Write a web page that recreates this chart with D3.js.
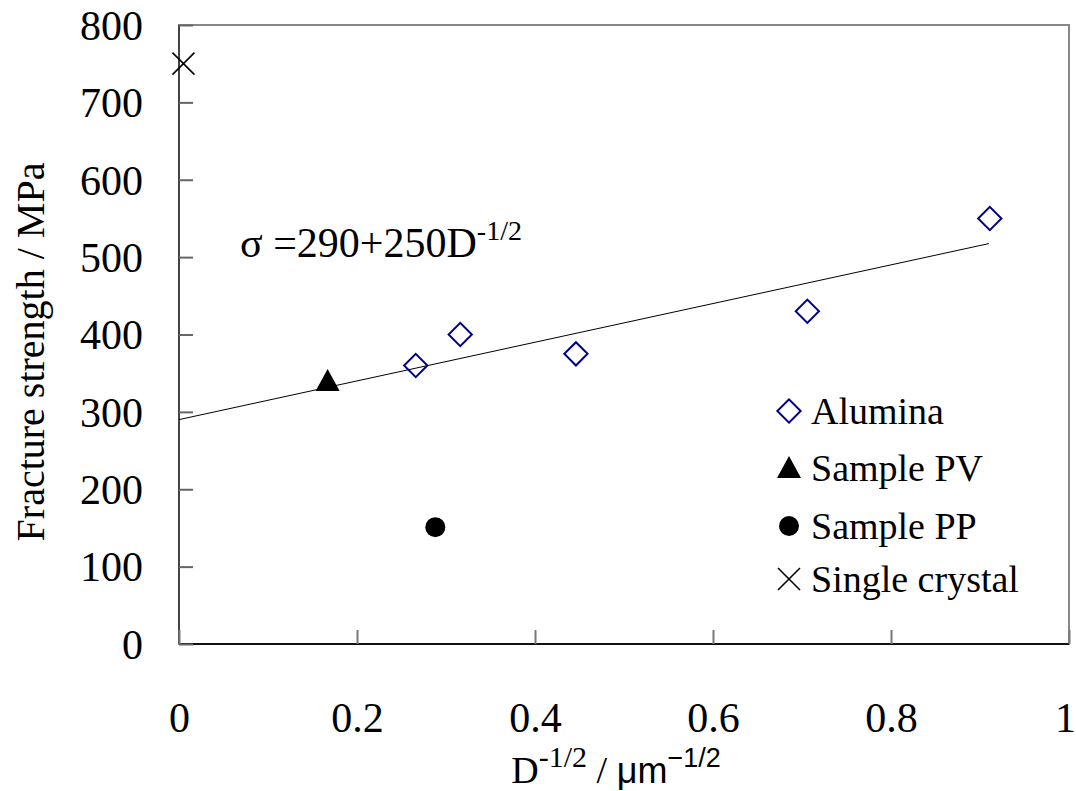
<!DOCTYPE html>
<html><head><meta charset="utf-8">
<script src="https://cdn.jsdelivr.net/npm/d3@7"></script>
<style>body{margin:0;background:#fff}svg{display:block}</style>
</head><body>
<svg id="c" width="1076" height="791"></svg>
<script>
const xTicks = [0, 0.2, 0.4, 0.6, 0.8, 1];
const xTickLabels = ["0", "0.2", "0.4", "0.6", "0.8", "1"];
const yTicks = [0, 100, 200, 300, 400, 500, 600, 700, 800];
const aluminaX = [0.266, 0.316, 0.446, 0.706, 0.911];
const aluminaY = [360, 400, 375, 430, 550];
const pvX = [0.167], pvY = [340];
const ppX = [0.288], ppY = [151];
const scX = [0.005], scY = [750];
const fitIntercept = 290, fitSlope = 250, fitRange = [0, 0.91];
const legendLabels = ["Alumina", "Sample PV", "Sample PP", "Single crystal"];

const SERIF = "Liberation Serif";
const SANS = "Liberation Sans";
const svg = d3.select("#c");
const L = 179, R = 1069, T = 25, B = 644;
const x = d3.scaleLinear().domain([0, 1]).range([L, R]);
const y = d3.scaleLinear().domain([0, 800]).range([B, T]);

// frame
svg.append("rect").attr("x", L).attr("y", T).attr("width", R - L).attr("height", B - T)
  .attr("fill", "none").attr("stroke", "#888").attr("stroke-width", 2);
svg.append("line").attr("x1", L).attr("x2", L).attr("y1", T).attr("y2", B).attr("stroke", "#444").attr("stroke-width", 2);
svg.append("line").attr("x1", L).attr("x2", R).attr("y1", B).attr("y2", B).attr("stroke", "#111").attr("stroke-width", 2);

// axes via d3
const yAxis = d3.axisLeft(y).tickValues(yTicks).tickSizeInner(-14).tickSizeOuter(0).tickPadding(36).tickFormat(d3.format("d"));
const gy = svg.append("g").attr("transform", `translate(${L},0)`).call(yAxis);
gy.select(".domain").remove();
gy.selectAll(".tick line").attr("stroke", "#666").attr("stroke-width", 2);
gy.selectAll(".tick text").attr("font-size", 42).attr("font-family", SERIF).attr("fill", "#000").attr("dy", "0.34em");

const xAxis = d3.axisBottom(x).tickValues(xTicks).tickSizeInner(-14).tickSizeOuter(0).tickPadding(58)
  .tickFormat((d, i) => xTickLabels[i]);
const gx = svg.append("g").attr("transform", `translate(0,${B})`).call(xAxis);
gx.select(".domain").remove();
gx.selectAll(".tick line").attr("stroke", "#777").attr("stroke-width", 2);
gx.selectAll(".tick text").attr("font-size", 42).attr("font-family", SERIF).attr("fill", "#000")
  .attr("dx", (d, i) => i === xTicks.length - 1 ? -4 : 0);

// fit line
svg.append("line")
  .attr("x1", x(fitRange[0])).attr("y1", y(fitIntercept + fitSlope * fitRange[0]))
  .attr("x2", x(fitRange[1])).attr("y2", y(fitIntercept + fitSlope * fitRange[1]))
  .attr("stroke", "#000").attr("stroke-width", 1);

const navy = "#00008b";
const diamond = d3.symbol().type(d3.symbolSquare).size(270)();
function drawDiamond(g, cx, cy) {
  g.append("path").attr("d", diamond).attr("transform", `translate(${cx},${cy}) rotate(45)`)
    .attr("fill", "none").attr("stroke", navy).attr("stroke-width", 2);
}
function drawTri(g, cx, cy) {
  g.append("path").attr("d", `M${cx},${cy - 12}L${cx + 12},${cy + 10}L${cx - 12},${cy + 10}Z`).attr("fill", "#000");
}
function drawCirc(g, cx, cy) {
  g.append("circle").attr("cx", cx).attr("cy", cy).attr("r", 10).attr("fill", "#000");
}
function drawX(g, cx, cy) {
  const s = 11;
  g.append("path").attr("d", `M${cx - s},${cy - s}L${cx + s},${cy + s}M${cx + s},${cy - s}L${cx - s},${cy + s}`)
    .attr("stroke", "#000").attr("stroke-width", 1.6).attr("fill", "none");
}
const gm = svg.append("g");
aluminaX.forEach((v, i) => drawDiamond(gm, x(v), y(aluminaY[i])));
pvX.forEach((v, i) => drawTri(gm, x(v), y(pvY[i])));
ppX.forEach((v, i) => drawCirc(gm, x(v), y(ppY[i])));
scX.forEach((v, i) => drawX(gm, x(v), y(scY[i])));

// equation
const eq = svg.append("text").attr("x", 240).attr("y", 257).attr("font-size", 42).attr("font-family", SERIF).attr("fill", "#000");
eq.append("tspan").text("σ =290+250D");
eq.append("tspan").attr("font-size", 28).attr("dy", -17).text("-1/2");

// legend
const legY = [411, 468, 526, 579];
const drawers = [drawDiamond, drawTri, drawCirc, drawX];
legendLabels.forEach((lab, i) => {
  drawers[i](svg, 789, legY[i]);
  svg.append("text").attr("x", 811).attr("y", legY[i]).attr("dy", "0.35em").attr("font-size", 38)
    .attr("font-family", SERIF).attr("fill", "#000").text(lab);
});

// axis titles
const xt = svg.append("text").attr("x", 616).attr("y", 783).attr("text-anchor", "middle").attr("font-size", 38)
  .attr("font-family", SERIF).attr("fill", "#000");
xt.append("tspan").text("D");
xt.append("tspan").attr("font-size", 30).attr("dy", -16).text("-1/2");
xt.append("tspan").attr("dy", 16).text("  /  ");
xt.append("tspan").attr("font-family", SANS).attr("font-size", 36).text("μm");
xt.append("tspan").attr("font-family", SANS).attr("font-size", 27).attr("dy", -16).text("−1/2");

svg.append("text").attr("transform", "translate(44,352) rotate(-90)").attr("text-anchor", "middle")
  .attr("font-size", 40).attr("font-family", SERIF).attr("fill", "#000").text("Fracture strength / MPa");
</script>
</body></html>
